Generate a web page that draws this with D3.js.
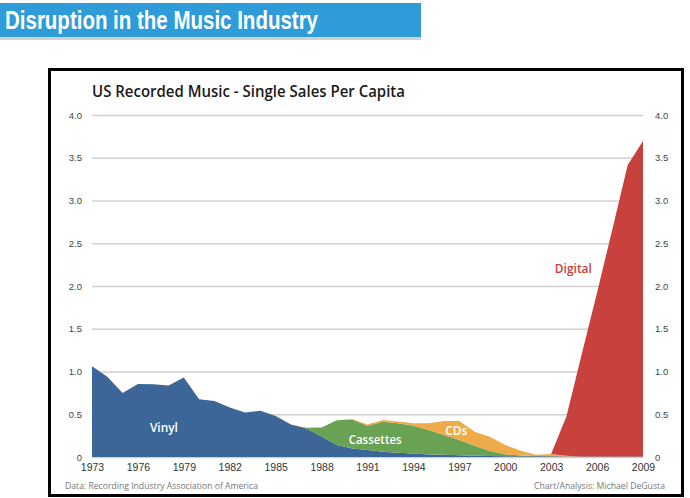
<!DOCTYPE html>
<meta charset="utf-8">
<style>
body { margin: 0; background: #fff; }
svg { display: block; }
.tick text { font-family: "Liberation Sans", Arial, sans-serif; }
</style>
<body>
<script src="https://d3js.org/d3.v7.min.js"></script>
<script>

var width = 690,
    height = 498;

// data, per capita single sales
var years = d3.range(1973, 2010);
var vinyl = [1.06, 0.94, 0.75, 0.855, 0.85, 0.835, 0.93, 0.675, 0.655, 0.58,
             0.52, 0.54, 0.48, 0.38, 0.333, 0.24, 0.14, 0.10, 0.082, 0.062,
             0.05, 0.04, 0.03, 0.025, 0.02, 0.015, 0.012, 0.01, 0.01, 0.01,
             0.01, 0.006, 0.005, 0.005, 0.005, 0.005, 0.005];
var cassettes = [0, 0, 0, 0, 0, 0, 0, 0, 0, 0,
                 0, 0, 0, 0, 0.01, 0.105, 0.29, 0.34, 0.284, 0.35,
                 0.344, 0.326, 0.286, 0.232, 0.18, 0.117, 0.058, 0.022, 0.008, 0.003,
                 0, 0, 0, 0, 0, 0, 0];
var cds = [0, 0, 0, 0, 0, 0, 0, 0, 0, 0,
           0, 0, 0, 0, 0, 0, 0, 0.005, 0.014, 0.02,
           0.02, 0.03, 0.078, 0.163, 0.22, 0.164, 0.167, 0.108, 0.056, 0.012,
           0.025, 0.01, 0, 0, 0, 0, 0];
var digital = [0, 0, 0, 0, 0, 0, 0, 0, 0, 0,
               0, 0, 0, 0, 0, 0, 0, 0, 0, 0,
               0, 0, 0, 0, 0, 0, 0, 0, 0, 0,
               0, 0.46, 1.2, 1.92, 2.66, 3.41, 3.69];

var seriesNames = ["Vinyl", "Cassettes", "CDs", "Digital"];
var seriesColors = ["#3b6697", "#69a155", "#eeab47", "#c8413d"];
var yTicks = [0, 0.5, 1.0, 1.5, 2.0, 2.5, 3.0, 3.5, 4.0];
var xTicks = [1973, 1976, 1979, 1982, 1985, 1988, 1991, 1994, 1997, 2000, 2003, 2006, 2009];

var rows = years.map(function(yr, i) {
  return {year: yr, Vinyl: vinyl[i], Cassettes: cassettes[i], CDs: cds[i], Digital: digital[i]};
});

var svg = d3.select("body").append("svg")
    .attr("width", width)
    .attr("height", height);

// header band
svg.append("rect")
    .attr("x", 0).attr("y", 37)
    .attr("width", 421).attr("height", 3)
    .attr("fill", "#cfd3d6");
svg.append("rect")
    .attr("x", 0).attr("y", 3)
    .attr("width", 421).attr("height", 34)
    .attr("fill", "#2f9cda");
svg.append("text")
    .attr("x", 5).attr("y", 29)
    .attr("fill", "#fff")
    .attr("font-family", "Liberation Sans, Arial, sans-serif")
    .attr("font-weight", "bold")
    .attr("font-size", 25)
    .attr("textLength", 313)
    .attr("lengthAdjust", "spacingAndGlyphs")
    .text("Disruption in the Music Industry");

// chart frame
svg.append("rect")
    .attr("x", 49.5).attr("y", 69.5)
    .attr("width", 633).attr("height", 426)
    .attr("fill", "#fff")
    .attr("stroke", "#000")
    .attr("stroke-width", 3);

svg.append("text")
    .attr("x", 92).attr("y", 97)
    .attr("fill", "#1a1a1a")
    .attr("font-family", "Open Sans, sans-serif")
    .attr("font-weight", 600)
    .attr("font-size", 15.5)
    .attr("textLength", 313)
    .attr("lengthAdjust", "spacingAndGlyphs")
    .text("US Recorded Music - Single Sales Per Capita");

var x = d3.scaleLinear().domain([1973, 2009]).range([92, 643]);
var y = d3.scaleLinear().domain([0, 4]).range([457, 115]);

// gridlines
svg.append("g")
    .attr("transform", "translate(92,0)")
    .call(d3.axisLeft(y).tickValues(yTicks).tickSize(-551).tickFormat(""))
    .call(function(g) {
      g.select(".domain").remove();
      g.selectAll(".tick line").attr("stroke", "#d0d0d0").attr("stroke-width", 1.5);
    });

var stack = d3.stack().keys(seriesNames);
var layers = stack(rows);

var area = d3.area()
    .x(function(d) { return x(d.data.year); })
    .y0(function(d) { return y(d[0]); })
    .y1(function(d) { return y(d[1]); });

svg.selectAll(".layer")
  .data(layers)
  .enter().append("path")
    .attr("class", "layer")
    .attr("d", area)
    .attr("fill", function(d, i) { return seriesColors[i]; });

// left and right axis labels
function styleAxis(g) {
  g.select(".domain").remove();
  g.selectAll(".tick line").remove();
  g.selectAll(".tick text").attr("fill", "#444").attr("font-size", 9.5);
}
var yFmt = function(d) { return d === 0 ? "0" : d3.format(".1f")(d); };
svg.append("g")
    .attr("transform", "translate(82,0)")
    .call(d3.axisLeft(y).tickValues(yTicks).tickSize(0).tickPadding(0).tickFormat(yFmt))
    .call(styleAxis);
svg.append("g")
    .attr("transform", "translate(655,0)")
    .call(d3.axisRight(y).tickValues(yTicks).tickSize(0).tickPadding(0).tickFormat(yFmt))
    .call(styleAxis);

svg.append("g")
    .attr("transform", "translate(0,464)")
    .call(d3.axisBottom(x).tickValues(xTicks).tickSize(0).tickPadding(0).tickFormat(d3.format("d")))
    .call(function(g) {
      g.select(".domain").remove();
      g.selectAll(".tick text").attr("fill", "#333").attr("font-size", 10.5);
    });

// series labels
var labels = [
  {text: "Vinyl", year: 1977.7, value: 0.29, color: "#fff", len: 28},
  {text: "Cassettes", year: 1991.5, value: 0.15, color: "#fff", len: 53},
  {text: "CDs", year: 1996.8, value: 0.26, color: "#fff", len: 22},
  {text: "Digital", year: 2004.45, value: 2.15, color: "#c8413d", len: 37}
];
svg.selectAll(".lbl")
  .data(labels)
  .enter().append("text")
    .attr("class", "lbl")
    .attr("x", function(d) { return x(d.year); })
    .attr("y", function(d) { return y(d.value); })
    .attr("text-anchor", "middle")
    .attr("fill", function(d) { return d.color; })
    .attr("font-family", "Open Sans, sans-serif")
    .attr("font-weight", 600)
    .attr("font-size", 12)
    .attr("textLength", function(d) { return d.len; })
    .attr("lengthAdjust", "spacingAndGlyphs")
    .text(function(d) { return d.text; });

// footers
svg.append("text")
    .attr("x", 65).attr("y", 489)
    .attr("fill", "#777")
    .attr("font-family", "Open Sans, sans-serif")
    .attr("font-size", 8.5)
    .attr("textLength", 193)
    .attr("lengthAdjust", "spacingAndGlyphs")
    .text("Data: Recording Industry Association of America");
svg.append("text")
    .attr("x", 665).attr("y", 489)
    .attr("text-anchor", "end")
    .attr("fill", "#777")
    .attr("font-family", "Open Sans, sans-serif")
    .attr("font-size", 8.5)
    .attr("textLength", 131)
    .attr("lengthAdjust", "spacingAndGlyphs")
    .text("Chart/Analysis: Michael DeGusta");

</script>
